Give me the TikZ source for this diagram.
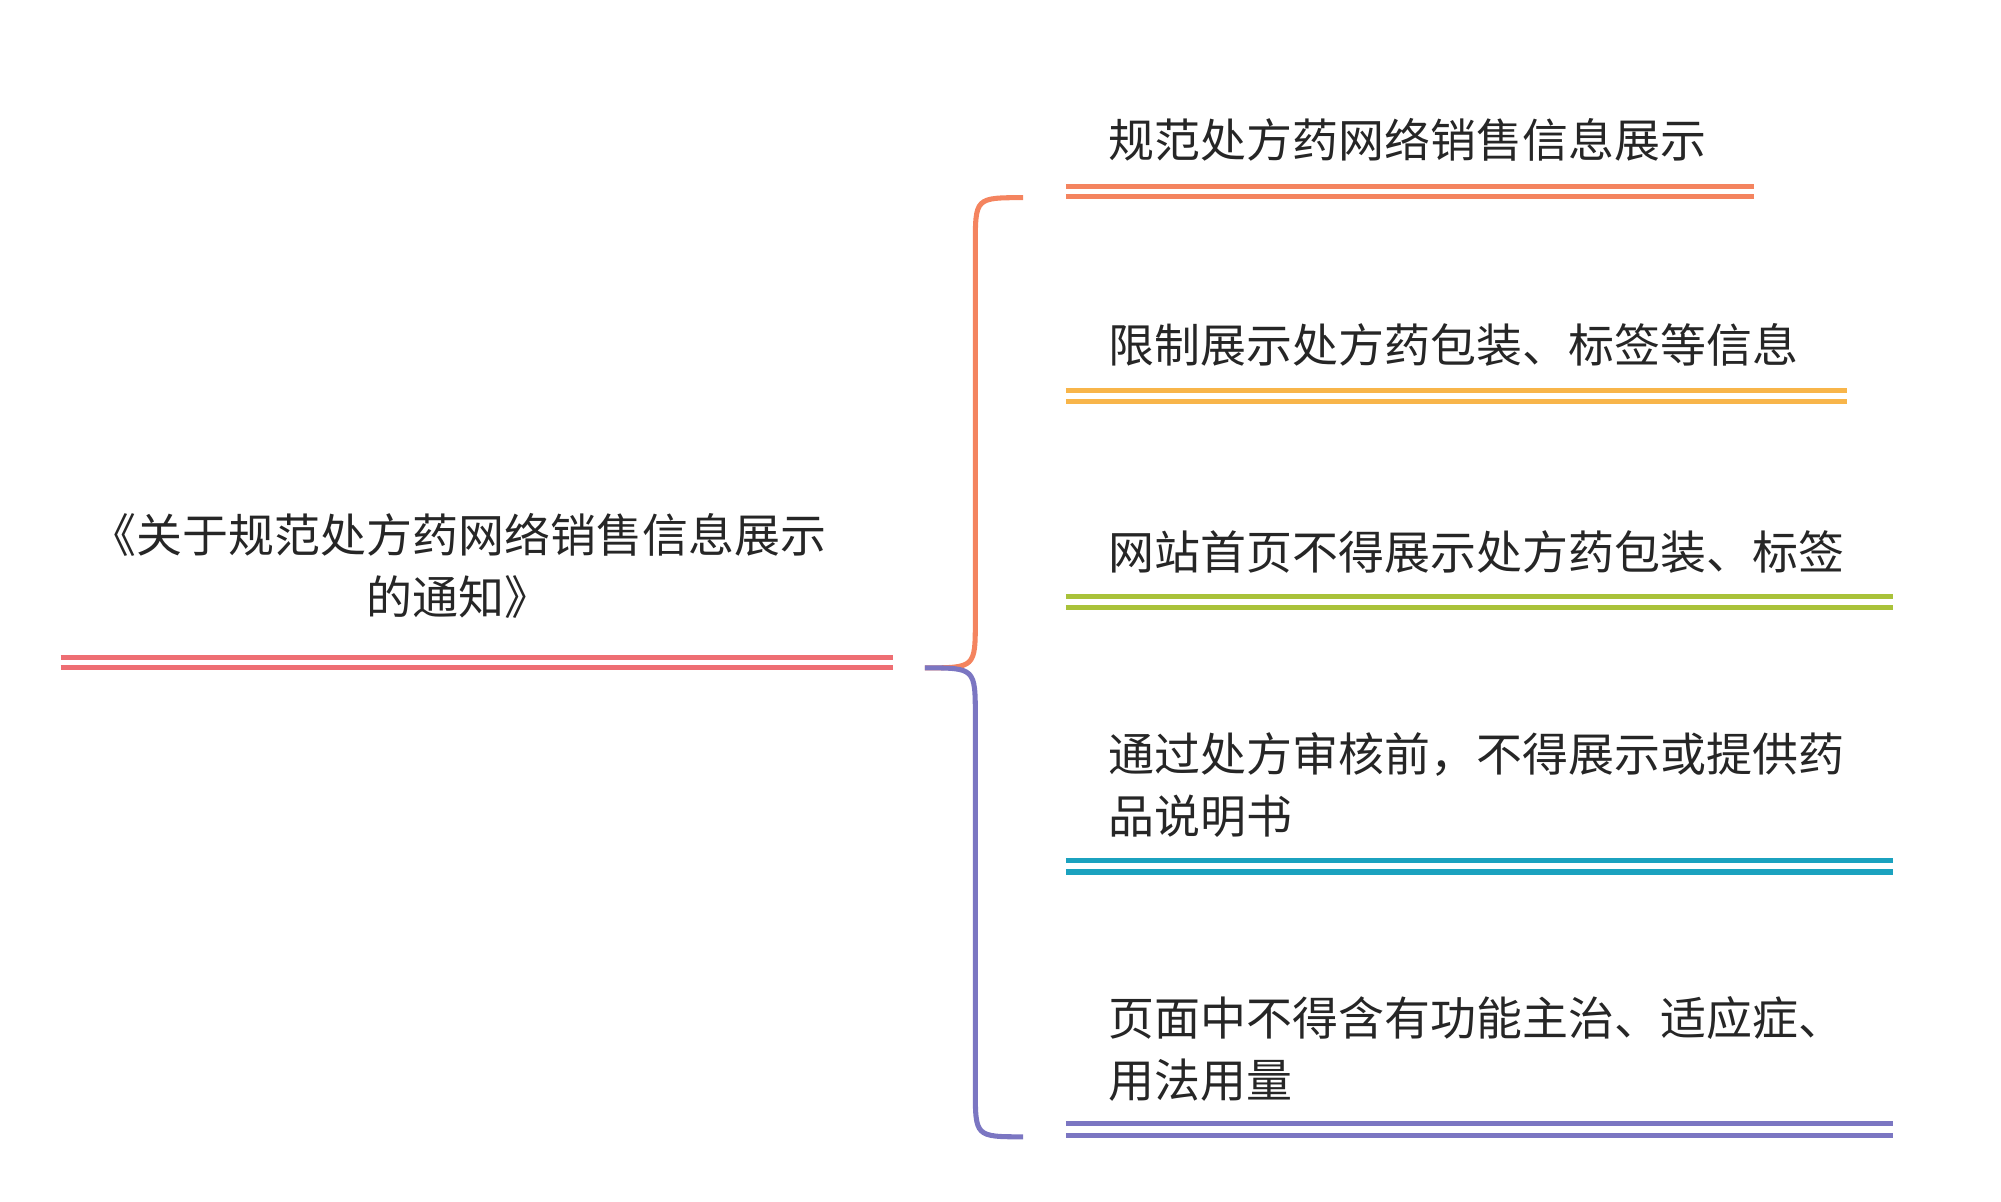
\documentclass[tikz,border=0pt]{standalone}
\usepackage{fontspec}
\newfontfamily\cjk{Noto Sans CJK SC}
\definecolor{cr}{HTML}{EE6E73}
\definecolor{c1}{HTML}{F4845F}
\definecolor{c2}{HTML}{F8B54A}
\definecolor{c3}{HTML}{A9C23A}
\definecolor{c4}{HTML}{1BA2BF}
\definecolor{c5}{HTML}{7B76C2}
\begin{document}
\begin{tikzpicture}[x=0.01976cm,y=-0.01976cm,
  txt/.style={font=\cjk\fontsize{20}{27}\selectfont,inner sep=0pt,text=black!85},
  lbl/.style={txt,anchor=west,align=left},
  dl/.style={line width=2.2pt}]
\useasboundingbox (0,0) rectangle (1549,930);
\node[txt,align=center] (root) at (355,438) {《关于规范处方药网络销售信息展示\\的通知》};
\draw[dl,cr] (47,509) -- (691,509) (47,517) -- (691,517);
\coordinate (m) at (716,517);
\coordinate (t) at (792,153);
\coordinate (b) at (792,880);
\draw[line width=2.2pt,c1] (t) .. controls (755,153) .. (755,190) -- (755,480) .. controls (755,517) .. (m);
\draw[line width=2.2pt,c5] (m) .. controls (755,517) .. (755,555) -- (755,843) .. controls (755,880) .. (b);
\node[lbl] (n1) at (858,108) {规范处方药网络销售信息展示};
\draw[dl,c1] (825,144) -- (1358,144) (825,152) -- (1358,152);
\node[lbl] (n2) at (858,267) {限制展示处方药包装、标签等信息};
\draw[dl,c2] (825,302) -- (1430,302) (825,311) -- (1430,311);
\node[lbl] (n3) at (858,427) {网站首页不得展示处方药包装、标签};
\draw[dl,c3] (825,462) -- (1465,462) (825,470) -- (1465,470);
\node[lbl] (n4) at (858,608) {通过处方审核前，不得展示或提供药\\品说明书};
\draw[dl,c4] (825,666) -- (1465,666) (825,675) -- (1465,675);
\node[lbl] (n5) at (858,812) {页面中不得含有功能主治、适应症、\\用法用量};
\draw[dl,c5] (825,870) -- (1465,870) (825,879) -- (1465,879);
\end{tikzpicture}
\end{document}
